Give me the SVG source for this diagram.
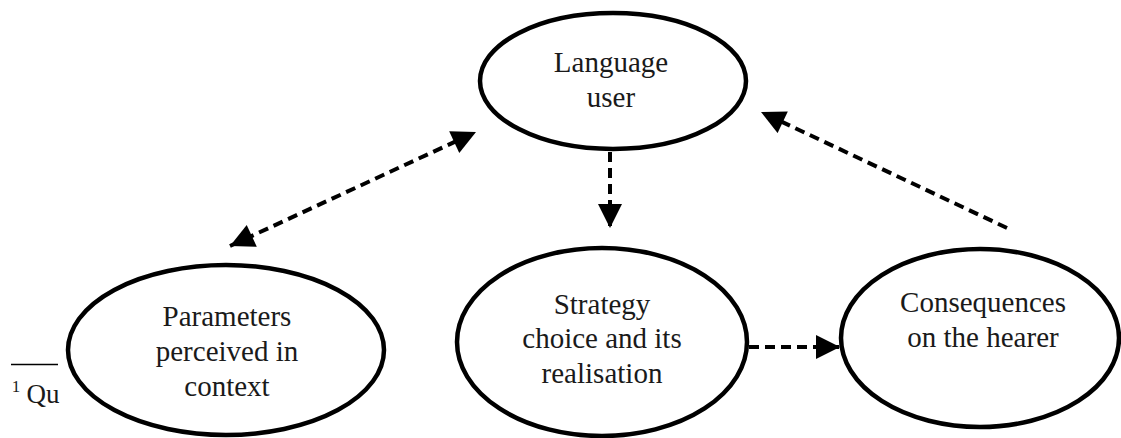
<svg xmlns="http://www.w3.org/2000/svg" width="1121" height="438" viewBox="0 0 1121 438">
<defs>
<style>
.node ellipse{fill:#fff;stroke:#000;stroke-width:4.5}
text{font-family:'Liberation Serif',Tinos,'DejaVu Serif',serif;font-size:29px;fill:#1a1a1a;text-anchor:middle}
.conn line{stroke:#000;stroke-width:4;stroke-dasharray:10 6;fill:none}
</style>
<marker id="ah" viewBox="0 0 10 10" refX="10" refY="5" markerWidth="6.5" markerHeight="6" markerUnits="strokeWidth" orient="auto-start-reverse">
<path d="M0,0 L10,5 L0,10 z" fill="#000"/>
</marker>
</defs>
<rect width="1121" height="438" fill="#fff"/>
<g id="connectors" class="conn">
<line x1="610" y1="152" x2="610" y2="228" marker-end="url(#ah)"/>
<line x1="230" y1="246" x2="476" y2="132" marker-start="url(#ah)" marker-end="url(#ah)"/>
<line x1="1007" y1="228" x2="761" y2="112" marker-end="url(#ah)"/>
<line x1="749" y1="347" x2="840" y2="347" marker-end="url(#ah)"/>
</g>
<g id="node-language-user" class="node">
<ellipse cx="613" cy="81" rx="133" ry="68"/>
<text x="611" y="72" font-family="Liberation Serif">Language</text>
<text x="611" y="107" font-family="Liberation Serif">user</text>
</g>
<g id="node-parameters" class="node">
<ellipse cx="226" cy="350" rx="158" ry="85"/>
<text x="227" y="326">Parameters</text>
<text x="227" y="361">perceived in</text>
<text x="227" y="396">context</text>
</g>
<g id="node-strategy" class="node">
<ellipse cx="602" cy="342" rx="145" ry="94"/>
<text x="602" y="314">Strategy</text>
<text x="602" y="348">choice and its</text>
<text x="602" y="383">realisation</text>
</g>
<g id="node-consequences" class="node">
<ellipse cx="980" cy="338" rx="139" ry="89"/>
<text x="983" y="312">Consequences</text>
<text x="983" y="347">on the hearer</text>
</g>
<g id="footnote">
<line x1="11" y1="364.5" x2="58" y2="364.5" stroke="#000" stroke-width="1.5"/>
<text x="16" y="392" style="font-size:17px">1</text>
<text x="43" y="403" style="font-size:27px">Qu</text>
</g>
</svg>
